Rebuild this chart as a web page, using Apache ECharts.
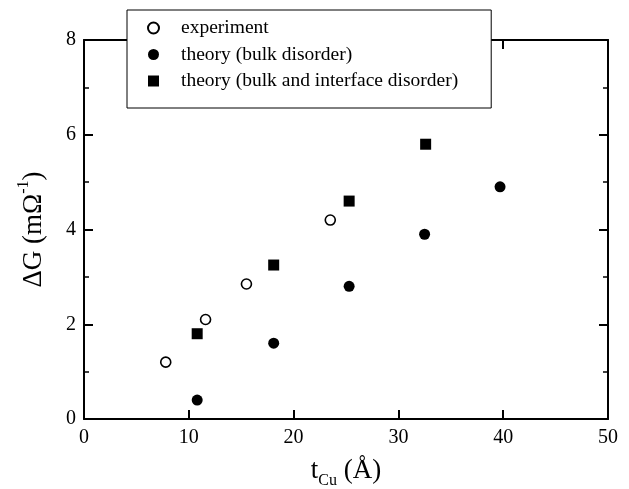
<!DOCTYPE html>
<html><head><meta charset="utf-8">
<script src="https://cdn.jsdelivr.net/npm/echarts@6/dist/echarts.min.js"></script>
<style>html,body{margin:0;padding:0;background:#fff}#c{width:629px;height:489px}</style>
</head><body><div id="c"></div>
<script>
const expX = [7.8, 11.6, 15.5, 23.5];
const expY = [1.2, 2.1, 2.85, 4.2];
const bulkX = [10.8, 18.1, 25.3, 32.5, 39.7];
const bulkY = [0.4, 1.6, 2.8, 3.9, 4.9];
const intX = [10.8, 18.1, 25.3, 32.6];
const intY = [1.8, 3.25, 4.6, 5.8];
const seriesNames = ['experiment', 'theory (bulk disorder)', 'theory (bulk and interface disorder)'];
const xTicks = [0, 10, 20, 30, 40, 50];
const yTicks = [0, 2, 4, 6, 8];

const F = '"Liberation Serif","DejaVu Serif",serif';
const zip = (a, b) => a.map((v, i) => [v, b[i]]);
const axLine = {show: true, onZero: false, lineStyle: {color: '#000', width: 2}};
const chart = echarts.init(document.getElementById('c'));
const xBase = {type: 'value', min: xTicks[0], max: xTicks[xTicks.length-1], interval: 10,
  axisLine: axLine, splitLine: {show: false},
  axisTick: {show: true, inside: true, length: 9, lineStyle: {color: '#000', width: 2}}};
const yBase = {type: 'value', min: yTicks[0], max: yTicks[yTicks.length-1], interval: 2,
  axisLine: axLine, splitLine: {show: false},
  axisTick: {show: true, inside: true, length: 9, lineStyle: {color: '#000', width: 2}},
  minorTick: {show: true, splitNumber: 2, length: 5, lineStyle: {color: '#000', width: 1.5}},
  minorSplitLine: {show: false}};
chart.setOption({
  animation: false,
  backgroundColor: '#fff',
  grid: {left: 84, right: 21, top: 40, bottom: 70, containLabel: false, outerBoundsMode: 'none'},
  xAxis: [
    Object.assign({}, xBase, {position: 'bottom',
      axisLabel: {color: '#000', fontFamily: F, fontSize: 20, margin: 9},
      name: 't{sub|Cu} (Å)', nameLocation: 'middle', nameGap: 34,
      nameTextStyle: {color: '#000', fontFamily: F, fontSize: 27, lineHeight: 36,
        rich: {sub: {fontFamily: F, fontSize: 16, verticalAlign: 'bottom', lineHeight: 16, color: '#000'}}}}),
    Object.assign({}, xBase, {position: 'top', axisLabel: {show: false}})
  ],
  yAxis: [
    Object.assign({}, yBase, {position: 'left',
      axisLabel: {color: '#000', fontFamily: F, fontSize: 20, margin: 8},
      name: 'ΔG (mΩ{sup|-1})', nameLocation: 'middle', nameGap: 32, nameRotate: 90,
      nameTextStyle: {color: '#000', fontFamily: F, fontSize: 27, lineHeight: 36,
        rich: {sup: {fontFamily: F, fontSize: 16, verticalAlign: 'top', lineHeight: 16, color: '#000'}}}}),
    Object.assign({}, yBase, {position: 'right', axisLabel: {show: false}})
  ],
  legend: {
    orient: 'vertical', left: 127, top: 10,
    data: seriesNames,
    backgroundColor: '#fff', borderColor: '#000', borderWidth: 1,
    padding: [8, 33, 17, 20],
    itemWidth: 11, itemHeight: 11, itemGap: 6.5,
    textStyle: {color: '#000', fontFamily: F, fontSize: 19.5, lineHeight: 20, padding: [0, 0, 0, 17]},
    z: 10
  },
  series: [
    {name: seriesNames[0], type: 'scatter', symbol: 'circle', symbolSize: 10, data: zip(expX, expY),
      itemStyle: {color: '#fff', borderColor: '#000', borderWidth: 1.6, opacity: 1}},
    {name: seriesNames[1], type: 'scatter', symbol: 'circle', symbolSize: 11, data: zip(bulkX, bulkY),
      itemStyle: {color: '#000', opacity: 1}},
    {name: seriesNames[2], type: 'scatter', symbol: 'rect', symbolSize: 11, data: zip(intX, intY),
      itemStyle: {color: '#000', opacity: 1}}
  ]
});
</script></body></html>
